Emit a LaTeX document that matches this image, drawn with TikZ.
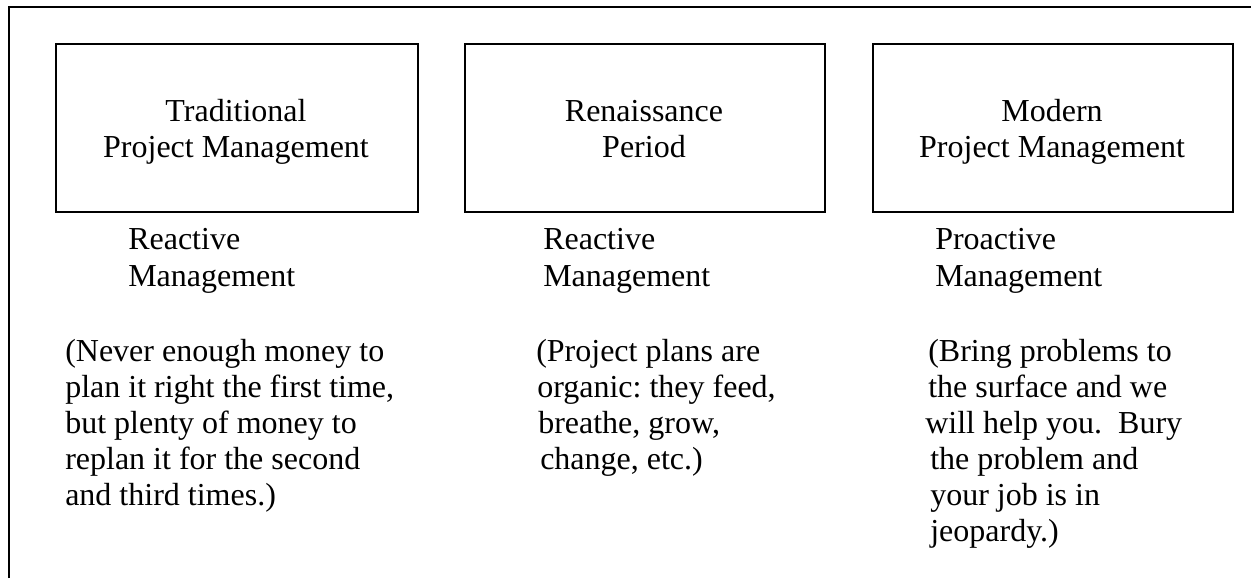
\documentclass[tikz,border=0pt]{standalone}
\usepackage{fontspec}
\setmainfont{Liberation Serif}
\frenchspacing
\begin{document}
\begin{tikzpicture}[x=0.75pt,y=-0.75pt,
  frame/.style={line width=1.6pt},
  era/.style={draw,line width=1.5pt,inner sep=0pt},
  txt/.style={inner sep=0pt,align=left,anchor=base west,font=\fontsize{24}{27.75}\selectfont},
  desc/.style={txt,font=\fontsize{24}{27}\selectfont},
  ctxt/.style={inner sep=0pt,align=center,anchor=base,font=\fontsize{24}{27}\selectfont}]
\useasboundingbox (0,0) rectangle (1251,578);
% outer frame (open at right and bottom)
\coordinate (fbl) at (9,578);
\coordinate (ftl) at (9,7);
\coordinate (ftr) at (1251,7);
\draw[frame] (fbl) -- (ftl) -- (ftr);
% era boxes
\node[era,minimum width=271.5pt,minimum height=126pt,anchor=north west] (b1) at (55,43) {};
\node[era,minimum width=270pt,minimum height=126pt,anchor=north west] (b2) at (464,43) {};
\node[era,minimum width=270pt,minimum height=126pt,anchor=north west] (b3) at (872,43) {};
\node[ctxt] (t1) at (236,157) {Traditional\\Project Management};
\node[ctxt] (t2) at (644,157) {Renaissance\\Period};
\node[ctxt] (t3) at (1052,157) {Modern\\Project Management};
% management styles
\node[txt] (m1) at (128,286) {Reactive\\Management};
\node[txt] (m2) at (543,286) {Reactive\\Management};
\node[txt] (m3) at (935,286) {Proactive\\Management};
% descriptions
\node[desc] (d1) at (65,505) {(Never enough money to\\plan it right the first time,\\but plenty of money to\\replan it for the second\\and third times.)};
\node[desc] (d2) at (536,469) {(Project plans are\\\hspace{0.75pt}organic: they feed,\\\hspace{1.5pt}breathe, grow,\\\hspace{3pt}change, etc.)};
\node[desc] (d3) at (928,541) {(Bring problems to\\the surface and we\\\hspace{-2.25pt}will help you.\ \ Bury\\\hspace{1.5pt}the problem and\\\hspace{1.5pt}your job is in\\\hspace{1.5pt}jeopardy.)};
\end{tikzpicture}
\end{document}
